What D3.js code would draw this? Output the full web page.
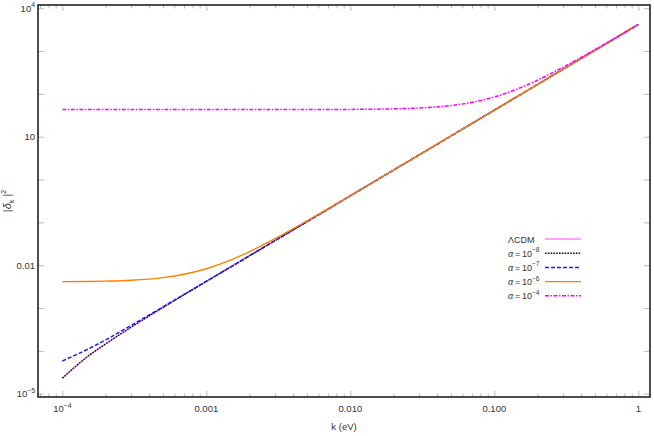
<!DOCTYPE html>
<html>
<head>
<meta charset="utf-8">
<script src="https://cdn.jsdelivr.net/npm/d3@7.9.0/dist/d3.min.js"></script>
<style>
  body { margin: 0; background: #fff; }
  svg { font-family: "Liberation Sans", Arial, sans-serif; }
</style>
</head>
<body>
<svg id="chart" width="654" height="436"></svg>
<script>
// k grid (eV) and |delta_k|^2 values
const kValues = [1e-4, 1.5e-4, 2e-4, 3e-4, 5e-4, 7e-4, 1e-3, 1.5e-3, 2e-3, 3e-3, 5e-3, 7e-3,
                 0.01, 0.02, 0.03, 0.05, 0.07, 0.1, 0.15, 0.2, 0.3, 0.5, 0.7, 1];
const lcdm    = [2.3e-5, 7.4e-5, 1.45e-4, 3.55e-4, 1.03e-3, 2.04e-3, 4.17e-3, 9.38e-3, 0.0167, 0.0375, 0.104, 0.204,
                 0.417, 1.67, 3.75, 10.4, 20.4, 41.7, 93.8, 167, 375, 1040, 2040, 4170];
const alphaE8 = [2.3e-5, 7.4e-5, 1.45e-4, 3.55e-4, 1.03e-3, 2.04e-3, 4.17e-3, 9.38e-3, 0.0167, 0.0375, 0.104, 0.204,
                 0.417, 1.67, 3.75, 10.4, 20.4, 41.7, 93.8, 167, 375, 1040, 2040, 4170];
const alphaE7 = [5.8e-5, 1.09e-4, 1.8e-4, 3.9e-4, 1.065e-3, 2.07e-3, 4.2e-3, 9.4e-3, 0.0167, 0.0375, 0.104, 0.204,
                 0.417, 1.67, 3.75, 10.4, 20.4, 41.7, 93.8, 167, 375, 1040, 2040, 4170];
const alphaE6 = [4.12e-3, 4.17e-3, 4.25e-3, 4.46e-3, 5.13e-3, 6.14e-3, 8.27e-3, 0.0135, 0.0208, 0.0416, 0.108, 0.208,
                 0.421, 1.67, 3.75, 10.4, 20.4, 41.7, 93.8, 167, 375, 1040, 2040, 4170];
const alphaE4 = [43, 43, 43, 43, 43, 43, 43, 43, 43, 43, 43.1, 43.2,
                 43.4, 44.7, 46.8, 53.4, 63.4, 84.7, 137, 210, 418, 1083, 2083, 4213];

const seriesNames = ["ΛCDM", "α\u2009=\u200910^-8", "α\u2009=\u200910^-7", "α\u2009=\u200910^-6", "α\u2009=\u200910^-4"];
const xTickValues = [1e-4, 1e-3, 1e-2, 1e-1, 1];
const xTickLabels = ["10^-4", "0.001", "0.010", "0.100", "1"];
const yTickValues = [1e-5, 1e-2, 10, 1e4];
const yTickLabels = ["10^-5", "0.01", "10", "10^4"];

const styles = [
  { color: "#ff80ff", dash: null, width: 1.4 },
  { color: "#111111", dash: "1.6,1.2", width: 1.4 },
  { color: "#1a1aff", dash: "4,2", width: 1.5 },
  { color: "#ff8000", dash: null, width: 1.4 },
  { color: "#ff00ff", dash: "4,1.5,1.5,1.5", width: 1.5 }
];
const allSeries = [lcdm, alphaE8, alphaE7, alphaE6, alphaE4];

const svg = d3.select("#chart");
const pLeft = 38, pTop = 5, pRight = 650, pBottom = 397;

const x = d3.scaleLog().domain([Math.pow(10, -4.169), Math.pow(10, 0.081)]).range([pLeft, pRight]);
const y = d3.scaleLog().domain([Math.pow(10, -5.078), Math.pow(10, 4.075)]).range([pBottom, pTop]);

// minor/major tick lists
const xMinor = [];
for (let e = -5; e <= 0; e++) for (let m = 2; m <= 9; m++) {
  const v = m * Math.pow(10, e);
  if (v >= x.domain()[0] && v <= x.domain()[1]) xMinor.push(v);
}
const yMajor = d3.range(-5, 5).map(e => Math.pow(10, e));

const tickColor = "#aaa";
function ax(gen, tr) {
  const g = svg.append("g").attr("transform", tr).call(gen);
  g.select(".domain").remove();
  g.selectAll("line").attr("stroke", tickColor).attr("stroke-width", 0.8);
  return g;
}
ax(d3.axisBottom(x).tickValues(xTickValues).tickSize(-6).tickFormat(""), `translate(0,${pBottom})`);
ax(d3.axisBottom(x).tickValues(xMinor).tickSize(-3.5).tickFormat(""), `translate(0,${pBottom})`);
ax(d3.axisTop(x).tickValues(xTickValues).tickSize(-6).tickFormat(""), `translate(0,${pTop})`);
ax(d3.axisTop(x).tickValues(xMinor).tickSize(-3.5).tickFormat(""), `translate(0,${pTop})`);
ax(d3.axisLeft(y).tickValues(yMajor).tickSize(-6).tickFormat(""), `translate(${pLeft},0)`);
ax(d3.axisRight(y).tickValues(yMajor).tickSize(-6).tickFormat(""), `translate(${pRight},0)`);

// label with optional superscript: "10^-4"
function supText(sel, label, fs) {
  const parts = label.split("^");
  const head = parts[0];
  if (head.startsWith("α")) {
    sel.append("tspan").attr("font-style", "italic").text("α");
    sel.append("tspan").text(head.slice(1));
  } else {
    sel.append("tspan").text(head);
  }
  if (parts.length > 1) {
    sel.append("tspan").attr("dy", -4.5).attr("font-size", fs * 0.72).text(parts[1].replace("-", "\u2212"));
  }
}

xTickValues.forEach((v, i) => {
  const t = svg.append("text").attr("x", x(v)).attr("y", pBottom + 15)
    .attr("text-anchor", "middle").attr("font-size", 9.5).attr("fill", "#333");
  supText(t, xTickLabels[i], 9.5);
});
yTickValues.forEach((v, i) => {
  const t = svg.append("text").attr("x", pLeft - 3).attr("y", y(v) + 3.5)
    .attr("text-anchor", "end").attr("font-size", 9.5).attr("fill", "#333");
  supText(t, yTickLabels[i], 9.5);
});

// curves
const line = d3.line().x(d => x(d[0])).y(d => y(d[1])).curve(d3.curveMonotoneX);
allSeries.forEach((vals, i) => {
  const s = styles[i];
  svg.append("path")
    .datum(kValues.map((k, j) => [k, vals[j]]))
    .attr("d", line)
    .attr("fill", "none")
    .attr("stroke", s.color)
    .attr("stroke-width", s.width)
    .attr("stroke-dasharray", s.dash);
});

// frame
svg.append("rect").attr("x", pLeft).attr("y", pTop).attr("width", pRight - pLeft).attr("height", pBottom - pTop)
  .attr("fill", "none").attr("stroke", "#222").attr("stroke-width", 1.6);

// axis titles
svg.append("text").attr("x", 344).attr("y", 430).attr("text-anchor", "middle")
  .attr("font-size", 9.5).attr("fill", "#333").text("k (eV)");
const yl = svg.append("text").attr("transform", "translate(11,201) rotate(-90)")
  .attr("text-anchor", "middle").attr("font-size", 11).attr("fill", "#333");
yl.append("tspan").text("|");
yl.append("tspan").attr("font-style", "italic").text("δ");
yl.append("tspan").attr("font-size", 7).attr("dy", 2.5).text("k");
yl.append("tspan").attr("dy", -2.5).text(" |");
yl.append("tspan").attr("font-size", 7).attr("dy", -5).text("2");

// legend
seriesNames.forEach((name, i) => {
  const ly = 239 + i * 14.2;
  const t = svg.append("text").attr("x", 508).attr("y", ly + 3.5)
    .attr("font-size", 9).attr("fill", "#333");
  supText(t, name, 9);
  const s = styles[i];
  svg.append("line").attr("x1", 545).attr("x2", 581).attr("y1", ly).attr("y2", ly)
    .attr("stroke", s.color).attr("stroke-width", s.width).attr("stroke-dasharray", s.dash);
});
</script>
</body>
</html>
